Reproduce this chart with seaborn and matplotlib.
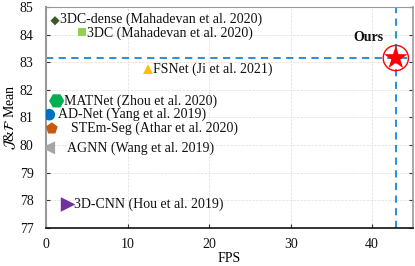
import matplotlib
matplotlib.use("Agg")
import matplotlib.pyplot as plt
import pandas as pd
import seaborn as sns

# data
methods = ["3DC-dense", "3DC", "FSNet", "MATNet", "AD-Net", "STEm-Seg", "AGNN", "3D-CNN", "Ours"]
labels = ["3DC-dense (Mahadevan et al. 2020)", "3DC (Mahadevan et al. 2020)",
          "FSNet (Ji et al. 2021)", "MATNet (Zhou et al. 2020)",
          "AD-Net (Yang et al. 2019)", "STEm-Seg (Athar et al. 2020)",
          "AGNN (Wang et al. 2019)", "3D-CNN (Hou et al. 2019)", "Ours"]
fps = [1.1, 4.4, 12.5, 1.3, 0.4, 0.7, 0.3, 2.7, 42.9]
jf_mean = [84.5, 84.1, 82.75, 81.6, 81.1, 80.6, 79.9, 77.85, 83.15]

colors = ["#3a5a27", "#92d050", "#ffc000", "#00b050", "#0070c0",
          "#c55a11", "#a6a6a6", "#7030a0", "#ff0000"]
marks = ["D", "s", "^", "H", "o", "p", "<", ">", "*"]
msize = [22, 36, 50, 120, 70, 80, 90, 110, 320]
# label offsets in points (x, y)
offs = [(3.5, 1.2), (4, -0.8), (3.5, 0), (5.5, 0), (6.5, 0), (14, 0), (13, 0), (4.5, 0), (-20, 15)]

df = pd.DataFrame({"method": methods, "fps": fps, "jf": jf_mean})

plt.rcParams["font.family"] = ["Liberation Serif", "DejaVu Serif"]
plt.rcParams["mathtext.fontset"] = "stix"

fig, ax = plt.subplots(figsize=(4.15, 2.66), dpi=100)

ax.axhline(jf_mean[-1], color="#1a86d8", ls=(0, (4, 3)), lw=1.3, zorder=1)
ax.axvline(fps[-1], color="#1a86d8", ls=(0, (4, 3)), lw=1.3, zorder=1)

sns.scatterplot(data=df, x="fps", y="jf", hue="method", style="method", size="method",
                palette=dict(zip(methods, colors)), markers=dict(zip(methods, marks)),
                sizes=dict(zip(methods, msize)), linewidth=0, legend=False, ax=ax, zorder=3)

# circle around ours
ax.scatter([fps[-1]], [jf_mean[-1]], s=330, facecolors="none", edgecolors="#ff0000",
           linewidths=1.0, zorder=4)

for i, lab in enumerate(labels):
    ax.annotate(lab, (fps[i], jf_mean[i]), xytext=offs[i], textcoords="offset points",
                ha="left" if i < 8 else "center", va="center", fontsize=10,
                fontweight="bold" if i == 8 else "normal", color="#111111", zorder=5)

ax.set_xlim(0, 45)
ax.set_ylim(77, 85)
ax.set_xticks([0, 10, 20, 30, 40])
ax.set_yticks(range(77, 86))
ax.grid(True, ls="--", lw=0.5, color="#dddddd")
ax.set_axisbelow(True)
ax.tick_params(direction="in", labelsize=10, length=3, top=False, right=True,
               color="#333333", labelcolor="#111111")
ax.tick_params(axis="y", pad=9)
ax.tick_params(axis="x", pad=7)
for s in ["left", "top", "right"]:
    ax.spines[s].set_color("#999999")
ax.spines["left"].set_linewidth(1.5)
ax.spines["right"].set_linewidth(1.2)
ax.spines["bottom"].set_color("#111111")
ax.spines["bottom"].set_linewidth(1.2)

ax.set_xlabel("FPS", fontsize=10, labelpad=1)
ax.set_ylabel(r"$\mathcal{J}$&$\mathcal{F}$ Mean", fontsize=10, labelpad=1)

fig.subplots_adjust(left=0.111, right=0.995, top=0.974, bottom=0.143)
fig.savefig("out.png", dpi=100)
